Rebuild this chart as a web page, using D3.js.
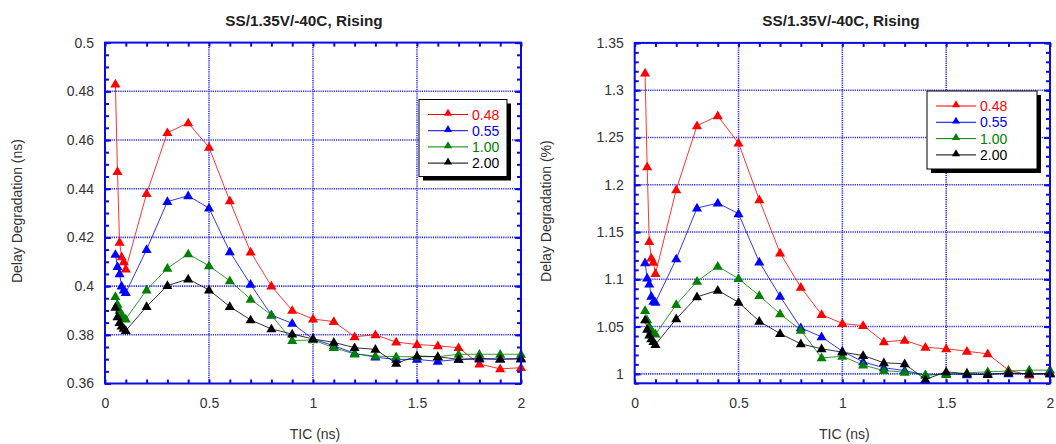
<!DOCTYPE html>
<html>
<head>
<meta charset="utf-8">
<script src="https://cdn.jsdelivr.net/npm/d3@7/dist/d3.min.js"></script>
<style>
  html, body { margin: 0; padding: 0; background: #fff; }
  svg { display: block; font-family: "Liberation Sans", Arial, sans-serif; }
</style>
</head>
<body>
<svg id="chart" width="1056" height="444"></svg>
<script>
// TIC sweep points (ns)
const tic = [0.05, 0.06, 0.07, 0.08, 0.09, 0.1, 0.2, 0.3, 0.4, 0.5, 0.6, 0.7, 0.8, 0.9,
             1.0, 1.1, 1.2, 1.3, 1.4, 1.5, 1.6, 1.7, 1.8, 1.9, 2.0];

// Series names (legend)
const seriesNames = ["0.48", "0.55", "1.00", "2.00"];
const seriesColors = ["#ff0000", "#0000ff", "#008000", "#000000"];

// Delay degradation (ns)
const delayNs048 = [0.483, 0.447, 0.418, 0.412, 0.410, 0.407, 0.438, 0.463, 0.467, 0.457, 0.435, 0.414, 0.400, 0.390,
                    0.3865, 0.3854, 0.3792, 0.380, 0.377, 0.376, 0.3755, 0.3747, 0.368, 0.366, 0.3665];
const delayNs055 = [0.413, 0.408, 0.405, 0.400, 0.3984, 0.3973, 0.415, 0.4347, 0.4371, 0.432, 0.4141, 0.4007, 0.3881, 0.3847,
                    0.3783, 0.3755, 0.3724, 0.3708, 0.3699, 0.3699, 0.3691, 0.3699, 0.370, 0.370, 0.370];
const delayNs100 = [0.3957, 0.3925, 0.390, 0.388, 0.387, 0.3865, 0.3984, 0.4073, 0.4132, 0.4083, 0.4022, 0.3946, 0.3881, 0.3776,
                    0.3779, 0.3747, 0.3721, 0.3713, 0.371, 0.371, 0.371, 0.372, 0.372, 0.372, 0.372];
const delayNs200 = [0.3913, 0.3874, 0.385, 0.3836, 0.3827, 0.3817, 0.3916, 0.4002, 0.4029, 0.3984, 0.3916, 0.3861, 0.3824, 0.3803,
                    0.3783, 0.3769, 0.3747, 0.374, 0.3683, 0.3713, 0.371, 0.3699, 0.3703, 0.370, 0.3703];

// Delay degradation (%)
const delayPct048 = [1.318, 1.219, 1.140, 1.1225, 1.118, 1.106, 1.1947, 1.2623, 1.2728, 1.244, 1.1841, 1.1278, 1.0915, 1.0627,
                     1.0532, 1.051, 1.0338, 1.0355, 1.0281, 1.0265, 1.0239, 1.0212, 1.0039, 0.9986, 1.0012];
const delayPct055 = [1.1173, 1.1014, 1.095, 1.082, 1.0767, 1.0757, 1.1215, 1.1753, 1.1806, 1.1693, 1.1183, 1.082, 1.0486, 1.0391,
                     1.0239, 1.0127, 1.0064, 1.0035, 0.9986, 1.0, 0.999, 1.0, 1.0, 1.0, 1.0];
const delayPct100 = [1.067, 1.057, 1.050, 1.046, 1.043, 1.042, 1.0732, 1.0978, 1.1137, 1.1007, 1.0827, 1.0634, 1.0461, 1.0169,
                     1.0186, 1.0092, 1.0035, 1.0017, 0.999, 0.9993, 1.001, 1.0022, 1.003, 1.0039, 1.0039];
const delayPct200 = [1.057, 1.047, 1.041, 1.037, 1.034, 1.031, 1.0581, 1.0814, 1.0883, 1.0757, 1.0556, 1.0426, 1.0317, 1.0265,
                     1.0229, 1.0194, 1.0117, 1.0106, 0.994, 1.0022, 1.0, 0.9993, 1.001, 1.0, 1.0];

// Axis ticks
const xMajorTicks = [0, 0.5, 1, 1.5, 2];
const nsMajorTicks = [0.36, 0.38, 0.40, 0.42, 0.44, 0.46, 0.48, 0.50];
const nsTickLabels = ["0.36", "0.38", "0.4", "0.42", "0.44", "0.46", "0.48", "0.5"];
const pctMajorTicks = [1.0, 1.05, 1.1, 1.15, 1.2, 1.25, 1.3, 1.35];
const pctTickLabels = ["1", "1.05", "1.1", "1.15", "1.2", "1.25", "1.3", "1.35"];

const titleText = "SS/1.35V/-40C, Rising";
const xTitle = "TIC (ns)";

const svg = d3.select("#chart");
const frameColor = "#0a0ae6";
const labelFont = "Liberation Sans, Arial, sans-serif";

function drawPanel(opt) {
  const g = svg.append("g");
  const x = d3.scaleLinear().domain([0, 2]).range([opt.left, opt.right]);
  const y = d3.scaleLinear().domain(opt.yDomain).range([opt.bottom, opt.top]);

  // Dotted grid at major ticks (inside the frame only)
  const grid = g.append("g").attr("stroke", "#2a2af0").attr("stroke-width", 1.6)
    .attr("stroke-dasharray", "1.2,1");
  xMajorTicks.filter(v => v > 0 && v < 2).forEach(v => {
    grid.append("line").attr("x1", x(v)).attr("x2", x(v)).attr("y1", opt.top).attr("y2", opt.bottom);
  });
  opt.yMajor.filter(v => v > opt.yDomain[0] + 1e-9 && v < opt.yDomain[1] - 1e-9).forEach(v => {
    grid.append("line").attr("x1", opt.left).attr("x2", opt.right).attr("y1", y(v)).attr("y2", y(v));
  });

  // Inward ticks on all four sides, via d3 axes
  const xMinor = d3.range(0, 2.0001, 0.1);
  const yMinor = d3.range(opt.yDomain[0], opt.yDomain[1] + 1e-9, opt.yMinorStep);
  const tickStyle = sel => {
    sel.select(".domain").remove();
    sel.selectAll("line").attr("stroke", frameColor).attr("stroke-width", 2);
    sel.selectAll("text").remove();
  };
  g.append("g").attr("transform", `translate(0,${opt.bottom})`)
    .call(d3.axisTop(x).tickValues(xMinor).tickSize(4)).call(tickStyle);
  g.append("g").attr("transform", `translate(0,${opt.top})`)
    .call(d3.axisBottom(x).tickValues(xMinor).tickSize(4)).call(tickStyle);
  g.append("g").attr("transform", `translate(${opt.left},0)`)
    .call(d3.axisRight(y).tickValues(yMinor).tickSize(4)).call(tickStyle);
  g.append("g").attr("transform", `translate(${opt.left},0)`)
    .call(d3.axisRight(y).tickValues(opt.yMajor).tickSize(6)).call(tickStyle);
  g.append("g").attr("transform", `translate(${opt.right},0)`)
    .call(d3.axisLeft(y).tickValues(yMinor).tickSize(4)).call(tickStyle);
  g.append("g").attr("transform", `translate(${opt.right},0)`)
    .call(d3.axisLeft(y).tickValues(opt.yMajor).tickSize(6)).call(tickStyle);

  // Tick labels
  const xl = d3.axisBottom(x).tickValues(xMajorTicks).tickSize(0).tickPadding(0)
    .tickFormat(d => d3.format("")(d));
  g.append("g").attr("transform", `translate(0,${opt.bottom + 15})`).call(xl)
    .call(s => s.select(".domain").remove())
    .selectAll("text").attr("fill", "#333").attr("font-size", 14)
    .attr("font-family", labelFont);
  const yl = d3.axisLeft(y).tickValues(opt.yMajor).tickSize(0).tickPadding(0)
    .tickFormat((d, i) => opt.yLabels[i]);
  g.append("g").attr("transform", `translate(${opt.left - 11},0)`).call(yl)
    .call(s => s.select(".domain").remove())
    .selectAll("text").attr("fill", "#333").attr("font-size", 14)
    .attr("font-family", labelFont);

  // Series lines and triangle markers
  const line = d3.line().x((d, i) => x(tic[i])).y(d => y(d));
  const tri = d3.symbol().type(d3.symbolTriangle).size(44);
  opt.series.forEach((vals, k) => {
    const c = seriesColors[k];
    g.append("path").datum(vals).attr("d", line).attr("fill", "none")
      .attr("stroke", c).attr("stroke-width", 1).attr("stroke-opacity", 0.8);
    g.append("g").selectAll("path").data(vals).join("path")
      .attr("d", tri).attr("fill", c)
      .attr("transform", (d, i) => `translate(${x(tic[i])},${y(d) + 0.5})`);
  });

  // Frame
  g.append("rect").attr("x", opt.left).attr("y", opt.top)
    .attr("width", opt.right - opt.left).attr("height", opt.bottom - opt.top)
    .attr("fill", "none").attr("stroke", frameColor).attr("stroke-width", 2);

  // Legend with drop shadow
  const L = opt.legend;
  const lg = g.append("g");
  lg.append("rect").attr("x", L.x + 4).attr("y", L.y + 4).attr("width", L.w).attr("height", L.h).attr("fill", "#000");
  lg.append("rect").attr("x", L.x).attr("y", L.y).attr("width", L.w).attr("height", L.h)
    .attr("fill", "#fff").attr("stroke", "#000").attr("stroke-width", 1);
  const legTri = d3.symbol().type(d3.symbolTriangle).size(28);
  seriesNames.forEach((name, k) => {
    const cy = L.y + L.row0 + k * L.rowStep;
    lg.append("line").attr("x1", L.x + 9).attr("x2", L.x + 49).attr("y1", cy).attr("y2", cy)
      .attr("stroke", seriesColors[k]).attr("stroke-width", 1);
    lg.append("path").attr("d", legTri).attr("fill", seriesColors[k])
      .attr("transform", `translate(${L.x + 29},${cy - 1})`);
    lg.append("text").attr("x", L.x + 53).attr("y", cy).attr("dy", "0.36em")
      .attr("font-size", 14).attr("fill", seriesColors[k]).text(name);
  });

  // Titles
  g.append("text").attr("x", opt.titleX).attr("y", 25.5).attr("text-anchor", "middle")
    .attr("font-weight", "bold").attr("font-size", 15.3).attr("fill", "#222").text(titleText);
  g.append("text").attr("x", (opt.left + opt.right) / 2 + 2).attr("y", 438.5).attr("text-anchor", "middle")
    .attr("font-size", 14).attr("fill", "#333").text(xTitle);
  g.append("text").attr("transform", `translate(${opt.yTitleX},${(opt.top + opt.bottom) / 2 - 2}) rotate(-90)`)
    .attr("text-anchor", "middle").attr("font-size", 14).attr("fill", "#333").text(opt.yTitle);
}

drawPanel({
  left: 105, right: 521, top: 42.6, bottom: 383.5,
  yDomain: [0.36, 0.50], yMajor: nsMajorTicks, yLabels: nsTickLabels, yMinorStep: 0.005,
  series: [delayNs048, delayNs055, delayNs100, delayNs200],
  legend: { x: 419, y: 99.5, w: 88, h: 77, row0: 15, rowStep: 16.2 },
  titleX: 304, yTitleX: 21.5, yTitle: "Delay Degradation (ns)"
});

drawPanel({
  left: 634.7, right: 1050, top: 42.9, bottom: 383.3,
  yDomain: [0.99, 1.35], yMajor: pctMajorTicks, yLabels: pctTickLabels, yMinorStep: 0.01,
  series: [delayPct048, delayPct055, delayPct100, delayPct200],
  legend: { x: 927, y: 91, w: 110, h: 78, row0: 15, rowStep: 16.3 },
  titleX: 841, yTitleX: 551, yTitle: "Delay Degradation (%)"
});
</script>
</body>
</html>
